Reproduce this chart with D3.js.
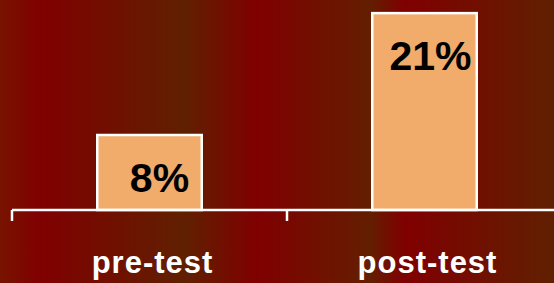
<!DOCTYPE html>
<html>
<head>
<meta charset="utf-8">
<script src="https://cdn.jsdelivr.net/npm/d3@7"></script>
<style>
html, body { margin: 0; padding: 0; overflow: hidden; }
svg { display: block; }
</style>
</head>
<body>
<svg id="chart" width="554" height="283"></svg>
<script>
const categories = ["pre-test", "post-test"];
const values = [8, 21];
const valueLabels = ["8%", "21%"];

const W = 554, H = 283;
const svg = d3.select("#chart");

// striped background
const defs = svg.append("defs");
const grad = defs.append("linearGradient").attr("id", "bg")
  .attr("x1", "0").attr("x2", "1").attr("y1", "0").attr("y2", "0");
[[0, "#781300"], [0.072, "#800000"], [0.334, "#602000"], [0.464, "#800000"],
 [0.668, "#631e00"], [0.731, "#800000"], [1, "#602000"]]
  .forEach(([o, c]) => grad.append("stop").attr("offset", o).attr("stop-color", c));
svg.append("rect").attr("width", W).attr("height", H).attr("fill", "url(#bg)");

const baseline = 210;
const x = d3.scaleBand().domain(categories).range([12, 562]).padding(0);
const y = d3.scaleLinear().domain([0, 24]).range([baseline, baseline - 225]);
const barW = x.bandwidth() * 0.38;

// bars
svg.selectAll("rect.bar").data(values).join("rect")
  .attr("class", "bar")
  .attr("x", (d, i) => x(categories[i]) + (x.bandwidth() - barW) / 2)
  .attr("y", d => y(d))
  .attr("width", barW)
  .attr("height", d => y(0) - y(d))
  .attr("fill", "#f1ab6b")
  .attr("stroke", "#ffffff")
  .attr("stroke-width", 2.5);

// value labels
svg.selectAll("text.val").data(values).join("text")
  .attr("class", "val")
  .attr("x", (d, i) => x(categories[i]) + x.bandwidth() / 2 + (i === 0 ? 10 : 6))
  .attr("y", d => y(d) + 57)
  .attr("text-anchor", "middle")
  .attr("font-family", "Liberation Sans, Arial, sans-serif")
  .attr("font-weight", "bold")
  .attr("font-size", 41)
  .attr("fill", "#000")
  .text((d, i) => valueLabels[i]);

// axis line and ticks
svg.append("line")
  .attr("x1", x.range()[0]).attr("x2", x.range()[1])
  .attr("y1", baseline).attr("y2", baseline)
  .attr("stroke", "#fff").attr("stroke-width", 2.5);
svg.selectAll("line.tick").data(categories).join("line")
  .attr("class", "tick")
  .attr("x1", d => x(d)).attr("x2", d => x(d))
  .attr("y1", baseline).attr("y2", baseline + 11)
  .attr("stroke", "#fff").attr("stroke-width", 2.5);

// category labels
svg.selectAll("text.cat").data(categories).join("text")
  .attr("class", "cat")
  .attr("x", d => x(d) + x.bandwidth() / 2 + 3)
  .attr("y", 273)
  .attr("text-anchor", "middle")
  .attr("font-family", "Liberation Sans, Arial, sans-serif")
  .attr("font-weight", "bold")
  .attr("font-size", 31)
  .attr("letter-spacing", 1)
  .attr("fill", "#fff")
  .text(d => d);
</script>
</body>
</html>
